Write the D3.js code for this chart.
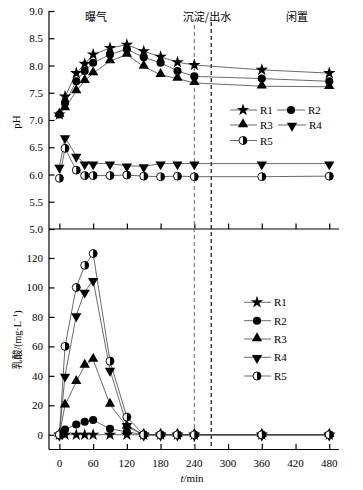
<!DOCTYPE html>
<html>
<head>
<meta charset="utf-8">
<script src="https://cdn.jsdelivr.net/npm/d3@7"></script>
<style>
  body { margin: 0; background: #fff; }
  text { font-family: "Liberation Serif", "Noto Sans CJK SC", serif; }
</style>
</head>
<body>
<div id="chart"></div>
<script>
// sampling times (min)
var times = [0, 10, 30, 45, 60, 90, 120, 150, 180, 210, 240, 360, 480];
var xTicks = [0, 60, 120, 180, 240, 300, 360, 420, 480];
var phTicks = [5.0, 5.5, 6.0, 6.5, 7.0, 7.5, 8.0, 8.5, 9.0];
var laTicks = [0, 20, 40, 60, 80, 100, 120];
var names = ["R1", "R2", "R3", "R4", "R5"];

// pH
var phR1 = [7.10, 7.43, 7.86, 8.03, 8.20, 8.32, 8.38, 8.26, 8.16, 8.06, 8.01, 7.92, 7.86];
var phR2 = [7.10, 7.31, 7.71, 7.90, 8.05, 8.20, 8.30, 8.15, 8.05, 7.90, 7.80, 7.76, 7.71];
var phR3 = [7.10, 7.22, 7.53, 7.72, 7.86, 8.08, 8.20, 7.98, 7.83, 7.76, 7.68, 7.62, 7.61];
var phR4 = [6.14, 6.68, 6.34, 6.20, 6.20, 6.20, 6.16, 6.15, 6.20, 6.20, 6.20, 6.20, 6.20];
var phR5 = [5.93, 6.48, 6.08, 5.98, 5.98, 5.98, 5.99, 5.97, 5.96, 5.97, 5.96, 5.96, 5.97];

// lactic acid (mg/L)
var laR1 = [0, 0, 0, 0, 0, 0, 0, 0, 0, 0, 0, 0, 0];
var laR2 = [0, 3.6, 7, 8.8, 10, 4, 2, 0, 0, 0, 0, 0, 0];
var laR3 = [0, 20, 36, 47, 51, 20.5, 5.5, 0, 0, 0, 0, 0, 0];
var laR4 = [0, 40, 81, 97, 105, 44, 6.5, 0, 0, 0, 0, 0, 0];
var laR5 = [0, 60, 100, 115, 123, 50, 12, 0, 0, 0, 0, 0, 0];

var width = 363, height = 490;

var svg = d3.select("#chart").append("svg")
  .attr("width", width)
  .attr("height", height);

var x = d3.scaleLinear().domain([-18.5, 497.3]).range([49, 339]);
var yPh = d3.scaleLinear().domain([5, 9]).range([229, 11]);
var yLa = d3.scaleLinear().domain([-10, 140]).range([449.5, 228.5]);

/* axes */
svg.append("g")
  .attr("transform", "translate(0,229)")
  .call(d3.axisTop(x).tickValues(xTicks).tickSize(5.5).tickFormat(""))
  .call(g => g.select(".domain").attr("d", "M49,0H339"));

svg.append("g")
  .attr("transform", "translate(0,449.5)")
  .call(d3.axisTop(x).tickValues(xTicks).tickSize(5.5).tickFormat(""))
  .call(g => g.select(".domain").attr("d", "M49,0H339"));

svg.append("g")
  .selectAll("text")
  .data(xTicks).enter()
  .append("text")
  .attr("x", d => x(d))
  .attr("y", 467)
  .attr("text-anchor", "middle")
  .attr("font-size", 11)
  .text(d => d);

svg.append("g")
  .attr("transform", "translate(49,0)")
  .call(d3.axisRight(yPh).tickValues(phTicks).tickSize(5.5).tickFormat(""))
  .call(g => g.select(".domain").attr("d", "M0,11V229"));

svg.append("g")
  .attr("transform", "translate(49,0)")
  .call(d3.axisRight(yLa).tickValues(laTicks).tickSize(5.5).tickFormat(""))
  .call(g => g.select(".domain").attr("d", "M0,229V449.5"));

svg.selectAll(".tick line, .domain").attr("stroke", "#000").attr("stroke-width", 1.2);

svg.append("g")
  .selectAll("text")
  .data(phTicks).enter()
  .append("text")
  .attr("x", 43)
  .attr("y", d => yPh(d) + 4)
  .attr("text-anchor", "end")
  .attr("font-size", 11)
  .text(d => d.toFixed(1));

svg.append("g")
  .selectAll("text")
  .data(laTicks).enter()
  .append("text")
  .attr("x", 43)
  .attr("y", d => yLa(d) + 4)
  .attr("text-anchor", "end")
  .attr("font-size", 11)
  .text(d => d);

/* axis titles */
svg.append("text")
  .attr("transform", "translate(20,122) rotate(-90)")
  .attr("text-anchor", "middle")
  .attr("font-size", 11)
  .text("pH");

svg.append("text")
  .attr("transform", "translate(21,340) rotate(-90)")
  .attr("text-anchor", "middle")
  .attr("font-size", 10)
  .html('乳酸/(mg·L<tspan dy="-4" font-size="7">−1</tspan><tspan dy="4">)</tspan>');

svg.append("text")
  .attr("x", 192)
  .attr("y", 482)
  .attr("text-anchor", "middle")
  .attr("font-size", 11)
  .html('<tspan font-style="italic">t</tspan>/min');

/* phase separators */
svg.append("line")
  .attr("x1", x(240)).attr("x2", x(240))
  .attr("y1", 25).attr("y2", 449.5)
  .attr("stroke", "#777").attr("stroke-width", 1.1)
  .attr("stroke-dasharray", "4,3");

svg.append("line")
  .attr("x1", x(270)).attr("x2", x(270))
  .attr("y1", 22).attr("y2", 449.5)
  .attr("stroke", "#000").attr("stroke-width", 1.1)
  .attr("stroke-dasharray", "4,3");

var phases = [["曝气", 96], ["沉淀/出水", 207], ["闲置", 297]];
svg.append("g")
  .selectAll("text")
  .data(phases).enter()
  .append("text")
  .attr("x", d => d[1])
  .attr("y", 21)
  .attr("text-anchor", "middle")
  .attr("font-size", 11)
  .style("font-family", "'Noto Sans CJK SC'")
  .text(d => d[0]);

/* markers */
function marker(g, i) {
  if (i == 4) {
    g.append("circle").attr("r", 4).attr("fill", "#fff").attr("stroke", "#000").attr("stroke-width", 0.9);
    g.append("path").attr("d", "M0,-4A4,4 0 0 1 0,4Z").attr("fill", "#000");
    return;
  }
  var types = [d3.symbolStar, d3.symbolCircle, d3.symbolTriangle, d3.symbolTriangle];
  var sizes = [48, 52, 46, 46];
  var p = g.append("path")
    .attr("d", d3.symbol().type(types[i]).size(sizes[i]))
    .attr("fill", "#000");
  if (i == 2) p.attr("transform", "translate(0,-0.8)");
  if (i == 3) p.attr("transform", "translate(0,0.8) rotate(180)");
}

function drawSeries(series, y) {
  series.forEach(function(vals, i) {
    var pts = times.map((t, j) => [t, vals[j]]);
    svg.append("path")
      .attr("d", d3.line().x(d => x(d[0])).y(d => y(d[1]))(pts))
      .attr("fill", "none")
      .attr("stroke", "#444")
      .attr("stroke-width", 0.8);
  });
  series.forEach(function(vals, i) {
    svg.append("g")
      .selectAll("g")
      .data(times.map((t, j) => [t, vals[j]])).enter()
      .append("g")
      .attr("transform", d => `translate(${x(d[0])},${y(d[1])})`)
      .each(function() { marker(d3.select(this), i); });
  });
}

drawSeries([phR1, phR2, phR3, phR4, phR5], yPh);
drawSeries([laR1, laR2, laR3, laR4, laR5], yLa);

/* legends */
function legendItem(cx, cy, i, x0, x1) {
  svg.append("line")
    .attr("x1", x0).attr("x2", x1)
    .attr("y1", cy).attr("y2", cy)
    .attr("stroke", "#444").attr("stroke-width", 0.8);
  var g = svg.append("g").attr("transform", `translate(${cx},${cy})`);
  marker(g, i);
  svg.append("text")
    .attr("x", x1 + 3)
    .attr("y", cy + 4)
    .attr("font-size", 11)
    .text(names[i]);
}

legendItem(243, 110, 0, 230, 257);
legendItem(291, 110, 1, 277, 305);
legendItem(243, 125, 2, 230, 257);
legendItem(292, 125, 3, 278, 306);
legendItem(243, 140.5, 4, 230, 257);

[302.3, 320.7, 339, 357.3, 376].forEach(function(cy, i) {
  legendItem(257, cy, i, 244, 271);
});
</script>
</body>
</html>
